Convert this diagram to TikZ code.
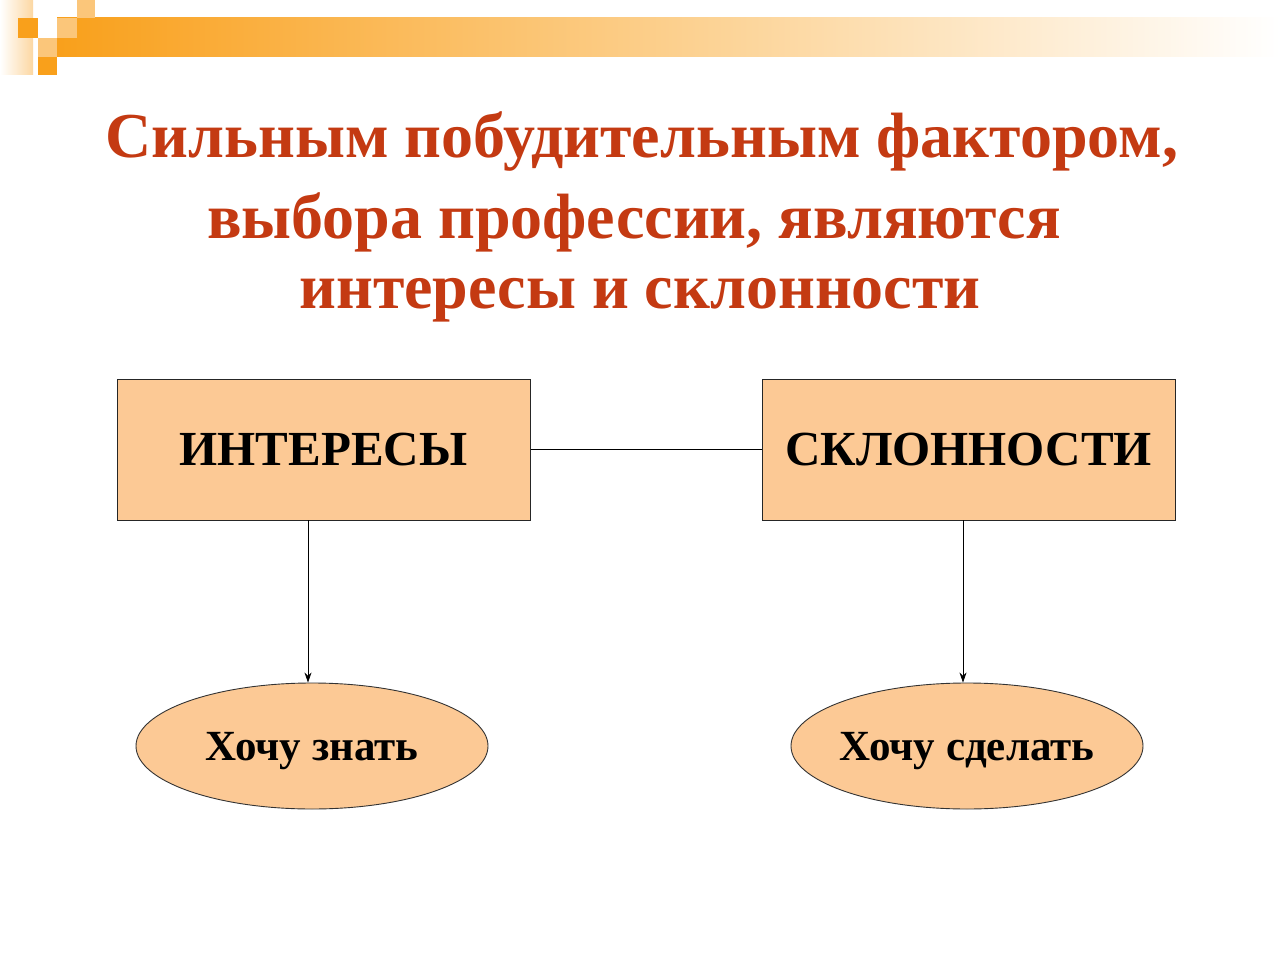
\documentclass[tikz,border=0pt]{standalone}
\usepackage{fontspec}
\setmainfont{Liberation Serif}
\usetikzlibrary{shapes.geometric,arrows.meta}
\definecolor{titlec}{HTML}{C43A12}
\definecolor{peach}{HTML}{FCC995}
\definecolor{org}{HTML}{F9A01B}
\definecolor{orglight}{HTML}{FBC67A}
\tikzset{
  box/.style={draw=black!85, line width=1pt, fill=peach, minimum width=413pt, minimum height=141pt, inner sep=0pt, font=\bfseries\fontsize{49}{55}\selectfont},
  oval/.style={ellipse, draw=black!80, line width=0.9pt, fill=peach, minimum width=352pt, minimum height=126pt, inner xsep=-10pt, inner ysep=0pt, text depth=0pt, font=\bfseries\fontsize{43}{48}\selectfont},
  conn/.style={draw=black, line width=0.8pt},
  arr/.style={conn, -{Stealth[length=10pt,width=7pt]}},
  ttl/.style={text=titlec, font=\bfseries\fontsize{64}{78}\selectfont, align=center}
}
\begin{document}
\begin{tikzpicture}[x=1pt,y=-1pt]
\useasboundingbox (0,0) rectangle (1280,960);
\fill[white] (0,0) rectangle (1280,960);
% decoration
\shade[left color=white, right color=orglight!70] (0,0) rectangle (33,75);
\shade[left color=org, right color=white] (57,18) rectangle (1280,57);
\fill[orglight] (57,18) rectangle (77,38);
\fill[orglight] (77,0) rectangle (95,18);
\fill[org] (18,18) rectangle (38,38);
\fill[orglight] (38,38) rectangle (57,57);
\fill[org] (38,57) rectangle (57,75);
% title
\node[ttl] (t1) at (642,142) {Сильным побудительным фактором,};
\node[ttl] (t2) at (634,222) {выбора профессии, являются};
\node[ttl] (t3) at (640,300) {интересы и склонности};
% boxes
\node[box] (int) at (323.5,449.5) {ИНТЕРЕСЫ};
\node[box] (skl) at (968.5,449.5) {СКЛОННОСТИ};
\node[oval] (zn) at (312,746) {Хочу знать};
\node[oval] (sd) at (967,746) {Хочу сделать};
\draw[conn] (int.east) -- (skl.west);
\draw[arr] (308,520) coordinate (a1) -- (a1 |- zn.north);
\draw[arr] (963,520) coordinate (a2) -- (a2 |- sd.north);
\end{tikzpicture}
\end{document}
